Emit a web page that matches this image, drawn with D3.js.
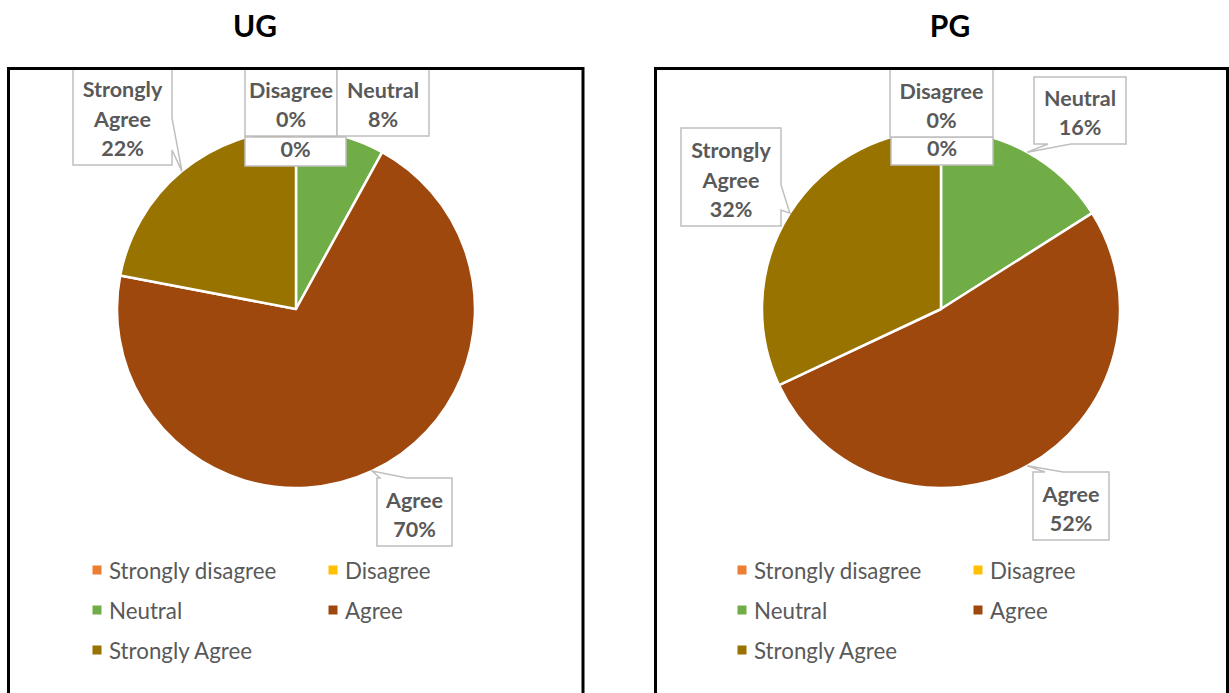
<!DOCTYPE html>
<html>
<head>
<meta charset="utf-8">
<script src="https://cdnjs.cloudflare.com/ajax/libs/d3/7.8.5/d3.min.js"></script>
<style>
  html, body { margin: 0; padding: 0; background: #fff; }
  svg { display: block; }
</style>
</head>
<body>
<svg id="chart" width="1229" height="693"></svg>
<script>
// ---------------- DATA ----------------
const categories = ["Strongly disagree", "Disagree", "Neutral", "Agree", "Strongly Agree"];
const ugValues = [0, 0, 8, 70, 22];
const pgValues = [0, 0, 16, 52, 32];
const chartTitles = ["UG", "PG"];
const sliceColors = ["#ED7D31", "#FFC000", "#70AD47", "#9E480E", "#997300"];
// label line content: which lines each data label shows
const labelShowsName = [false, true, true, true, true];

// ---------------- LAYOUT ----------------
const FONT = "Lato, 'Open Sans', sans-serif";
const TEXT_COLOR = "#595959";
const radius = 179;
const panels = [
  { title: chartTitles[0], values: ugValues, cx: 296, cy: 309, titleX: 255,
    frame: [8.5, 68.5, 583, 700],
    labels: [
      { box: [-51, -172, 50, -143] },
      { box: [-51, -260, 41, -173] },
      { box: [41, -260, 133, -173] },
      { box: [81, 169, 156, 237], wedge: { side: "top", a: 84, b: 111 } },
      { box: [-223, -260, -124, -144], wedge: { side: "right", a: -191, b: -159 } }
    ] },
  { title: chartTitles[1], values: pgValues, cx: 941, cy: 309, titleX: 950,
    frame: [655.5, 68.5, 1227.5, 700],
    labels: [
      { box: [-50, -172, 52, -144] },
      { box: [-51, -260, 52, -172] },
      { box: [93, -232, 185, -165], wedge: { side: "bottom", a: 107, b: 130 } },
      { box: [92, 163, 168, 231], wedge: { side: "top", a: 104, b: 122 } },
      { box: [-260, -181, -160, -83], wedge: { side: "right", a: -124, b: -99 } }
    ] }
];
const legendCols = [-199, 37];
const legendRows = [261, 301, 341];
const lineH = 29.5;

const svg = d3.select("#chart");

function calloutPath(b, w, tip) {
  const [x0, y0, x1, y1] = b;
  const p = d3.path();
  p.moveTo(x0, y0);
  if (w && w.side === "top") { p.lineTo(w.a, y0); p.lineTo(tip[0], tip[1]); p.lineTo(w.b, y0); }
  p.lineTo(x1, y0);
  if (w && w.side === "right") { p.lineTo(x1, w.a); p.lineTo(tip[0], tip[1]); p.lineTo(x1, w.b); }
  p.lineTo(x1, y1);
  if (w && w.side === "bottom") { p.lineTo(w.b, y1); p.lineTo(tip[0], tip[1]); p.lineTo(w.a, y1); }
  p.lineTo(x0, y1);
  p.closePath();
  return p.toString();
}

panels.forEach((P, pi) => {
  // title
  svg.append("text")
    .attr("x", P.titleX).attr("y", 25)
    .attr("text-anchor", "middle").attr("dominant-baseline", "central")
    .attr("font-family", FONT).attr("font-weight", 700).attr("font-size", 30)
    .attr("fill", "#000").text(P.title);

  const [fx0, fy0, fx1, fy1] = P.frame;
  const clipId = "clip" + pi;
  svg.append("clipPath").attr("id", clipId)
    .append("rect").attr("x", fx0).attr("y", fy0).attr("width", fx1 - fx0).attr("height", fy1 - fy0);

  const g = svg.append("g").attr("clip-path", `url(#${clipId})`);
  const gp = g.append("g").attr("transform", `translate(${P.cx},${P.cy})`);

  const pie = d3.pie().sort(null).value(d => d)(P.values);
  const arc = d3.arc().innerRadius(0).outerRadius(radius);
  const total = d3.sum(P.values);

  gp.selectAll("path.slice").data(pie).enter().append("path")
    .attr("class", "slice")
    .attr("d", arc)
    .attr("fill", (d, i) => sliceColors[i])
    .attr("stroke", "#fff").attr("stroke-width", 2.5).attr("stroke-linejoin", "round");

  // data labels
  pie.forEach((d, i) => {
    const L = P.labels[i];
    const mid = (d.startAngle + d.endAngle) / 2;
    const tip = [radius * Math.sin(mid), -radius * Math.cos(mid)];
    const lg = gp.append("g");
    lg.append("path")
      .attr("d", calloutPath(L.box, L.wedge, tip))
      .attr("fill", "#fff").attr("stroke", "#BFBFBF").attr("stroke-width", 1.5);
    const pct = Math.round(P.values[i] / total * 100) + "%";
    let lines = [pct];
    if (labelShowsName[i]) {
      const name = categories[i];
      lines = (name === "Strongly Agree" ? ["Strongly", "Agree"] : [name]).concat([pct]);
    }
    const [x0, y0, x1, y1] = L.box;
    const cxT = (x0 + x1) / 2;
    const bottomY = y1 - 17;
    lines.forEach((t, k) => {
      lg.append("text")
        .attr("x", cxT)
        .attr("y", bottomY - (lines.length - 1 - k) * lineH)
        .attr("text-anchor", "middle").attr("dominant-baseline", "central")
        .attr("font-family", FONT).attr("font-weight", 700).attr("font-size", 21.5)
        .attr("fill", TEXT_COLOR).text(t);
    });
  });

  // legend
  const leg = g.append("g").attr("transform", `translate(${P.cx},${P.cy})`);
  categories.forEach((c, i) => {
    const x = legendCols[i % 2], y = legendRows[Math.floor(i / 2)];
    leg.append("rect").attr("x", x - 4.5).attr("y", y - 4.5).attr("width", 9).attr("height", 9)
      .attr("fill", sliceColors[i]);
    leg.append("text").attr("x", x + 12).attr("y", y)
      .attr("dominant-baseline", "central")
      .attr("font-family", FONT).attr("font-size", 22.3)
      .attr("fill", TEXT_COLOR).text(c);
  });

  // frame
  svg.append("rect").attr("x", fx0).attr("y", fy0).attr("width", fx1 - fx0).attr("height", fy1 - fy0)
    .attr("fill", "none").attr("stroke", "#000").attr("stroke-width", 3);
});
</script>
</body>
</html>
